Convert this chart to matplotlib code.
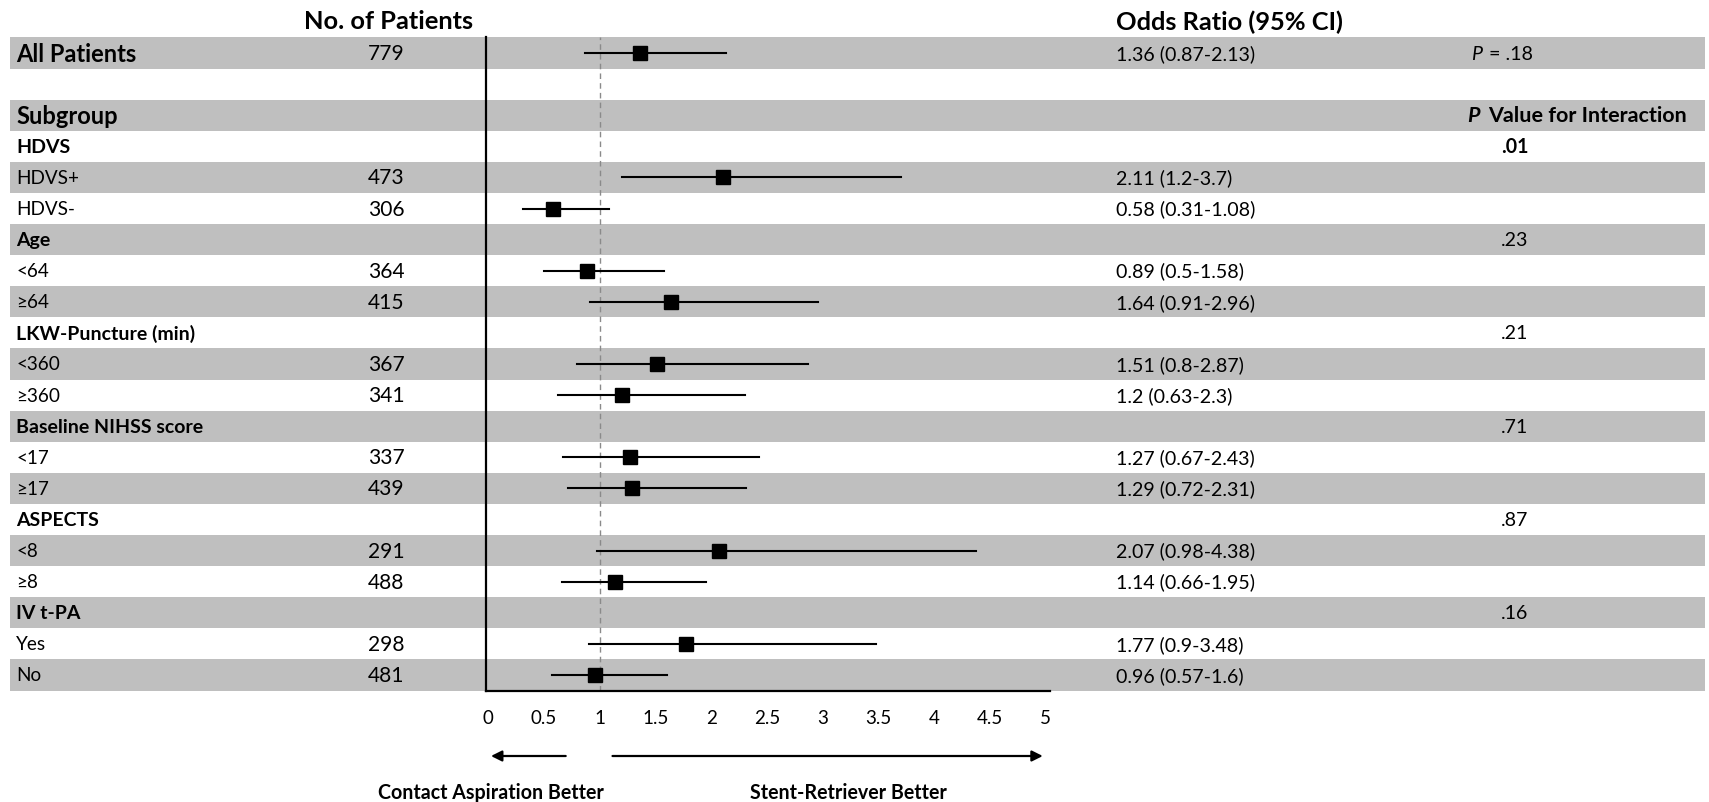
import numpy as np
import matplotlib
matplotlib.use("Agg")
import matplotlib.pyplot as plt
from matplotlib.patches import Rectangle
from matplotlib.textpath import TextPath
from matplotlib.font_manager import FontProperties

FAMILY = ['Lato', 'DejaVu Sans']
plt.rcParams['font.family'] = FAMILY

# rows of the forest plot, top to bottom
row_labels = ["All Patients", "", "Subgroup", "HDVS", "HDVS+", "HDVS-",
              "Age", "<64", "\u226564", "LKW-Puncture (min)", "<360", "\u2265360",
              "Baseline NIHSS score", "<17", "\u226517", "ASPECTS", "<8", "\u22658",
              "IV t-PA", "Yes", "No"]
bold_rows = [0, 2, 3, 6, 9, 12, 15, 18]
n_patients = ["779", "", "", "", "473", "306", "", "364", "415", "", "367", "341",
              "", "337", "439", "", "291", "488", "", "298", "481"]
odds_ratio = [1.36, None, None, None, 2.11, 0.58, None, 0.89, 1.64, None, 1.51, 1.2,
              None, 1.27, 1.29, None, 2.07, 1.14, None, 1.77, 0.96]
ci_low = [0.87, None, None, None, 1.2, 0.31, None, 0.5, 0.91, None, 0.8, 0.63,
          None, 0.67, 0.72, None, 0.98, 0.66, None, 0.9, 0.57]
ci_high = [2.13, None, None, None, 3.7, 1.08, None, 1.58, 2.96, None, 2.87, 2.3,
           None, 2.43, 2.31, None, 4.38, 1.95, None, 3.48, 1.6]
p_interaction = ["", "", "", ".01", "", "", ".23", "", "", ".21", "", "",
                 ".71", "", "", ".87", "", "", ".16", "", ""]
p_overall = ".18"
x_ticks = [0, 0.5, 1, 1.5, 2, 2.5, 3, 3.5, 4, 4.5, 5]


def fit_size(s, width_px, **kw):
    # font size (pt, at 100 dpi) giving the text an ink width of width_px
    w = TextPath((0, 0), s, size=100, prop=FontProperties(family=FAMILY, **kw)).get_extents().width
    return width_px * 72 / w


# Calibri in the original is narrower than Lato, so sizes are fitted to the widths
hdr_size = fit_size("No. of Patients", 166, weight='bold')
big_size = fit_size("All Patients", 120, weight='bold')
grp_size = fit_size("ASPECTS", 82, weight='bold')
lab_size = fit_size("HDVS+", 60)
num_size = fit_size("779", 34)
or_size = fit_size("1.36 (0.87-2.13)", 137)
pint_size = fit_size("Value for Interaction", 197, weight='bold')
tick_size = fit_size("2.5", 24)
note_size = fit_size("Contact Aspiration Better", 224, weight='bold')

W, H = 1709, 803
y0, pitch = 54, 31.1   # pixel centre of first row, row height
gray = '#bfbfbf'

fig = plt.figure(figsize=(W / 100, H / 100), dpi=100)

# background axes: x in pixels, y in row units
bg = fig.add_axes([0, 0, 1, 1])
bg.set_xlim(0, W)
bg.set_ylim((H - y0) / pitch, -y0 / pitch)
bg.axis('off')

for i in range(len(row_labels)):
    if i % 2 == 0:
        bg.add_patch(Rectangle((10, i - 0.5), 1695, 1, color=gray, lw=0, zorder=0))
    if row_labels[i]:
        bold = i in bold_rows
        size = big_size if i in (0, 2) else (grp_size if bold else lab_size)
        bg.text(16, i, row_labels[i], va='center', ha='left', fontsize=size,
                fontweight='bold' if bold else 'normal')
    if n_patients[i]:
        bg.text(386, i, n_patients[i], va='center', ha='center', fontsize=num_size)
    if odds_ratio[i] is not None:
        bg.text(1116, i, f"{odds_ratio[i]:g} ({ci_low[i]:g}-{ci_high[i]:g})",
                va='center', ha='left', fontsize=or_size)
    if p_interaction[i]:
        bg.text(1501, i, p_interaction[i], va='center', ha='left', fontsize=or_size,
                fontweight='bold' if i == 3 else 'normal')

# column headers
bg.text(389, -1.03, "No. of Patients", ha='center', va='center', fontsize=hdr_size, fontweight='bold')
bg.text(1116, -1.03, "Odds Ratio (95% CI)", ha='left', va='center', fontsize=hdr_size, fontweight='bold')
bg.text(1471, 0, "P", ha='left', va='center', fontsize=or_size, style='italic')
bg.text(1489, 0, "= " + p_overall, ha='left', va='center', fontsize=or_size)
bg.text(1467, 2, "P", ha='left', va='center', fontsize=pint_size, style='italic', fontweight='bold')
bg.text(1488, 2, "Value for Interaction", ha='left', va='center', fontsize=pint_size, fontweight='bold')

# forest axes
left, right, top, bottom = 486, 1050, 38, 692
ax = fig.add_axes([left / W, 1 - bottom / H, (right - left) / W, (bottom - top) / H])
ax.patch.set_alpha(0)
ax.set_xlim(-0.02, 5.04)
ax.set_ylim((bottom - y0) / pitch, (top - y0) / pitch)
for s in ['top', 'right']:
    ax.spines[s].set_visible(False)
for s in ['left', 'bottom']:
    ax.spines[s].set_linewidth(1.6)
ax.set_yticks([])
ax.set_xticks(x_ticks)
ax.set_xticklabels([f"{t:g}" for t in x_ticks], fontsize=tick_size)
ax.tick_params(axis='x', length=0, pad=13)

ax.axvline(1, color='#8a8a8a', lw=1, ls=(0, (4, 3)), zorder=1)

for i, est in enumerate(odds_ratio):
    if est is None:
        continue
    ax.plot([ci_low[i], ci_high[i]], [i, i], color='black', lw=1.5, zorder=2)
    ax.plot(est, i, marker='s', color='black', markersize=9.5, zorder=3)

# direction arrows
arrow_y = -(757 - bottom) / (bottom - top)
ax.annotate("", xy=(0.0, arrow_y), xytext=(0.72, arrow_y),
            xycoords=('data', 'axes fraction'), textcoords=('data', 'axes fraction'),
            arrowprops=dict(arrowstyle='-|>', color='black', lw=1.6, mutation_scale=16))
ax.annotate("", xy=(5.0, arrow_y), xytext=(1.09, arrow_y),
            xycoords=('data', 'axes fraction'), textcoords=('data', 'axes fraction'),
            arrowprops=dict(arrowstyle='-|>', color='black', lw=1.6, mutation_scale=16))

fig.text(491 / W, 1 - 793 / H, "Contact Aspiration Better", ha='center', va='center',
         fontsize=note_size, fontweight='bold')
fig.text(848 / W, 1 - 793 / H, "Stent-Retriever Better", ha='center', va='center',
         fontsize=note_size, fontweight='bold')

fig.savefig("out.png", dpi=100)
